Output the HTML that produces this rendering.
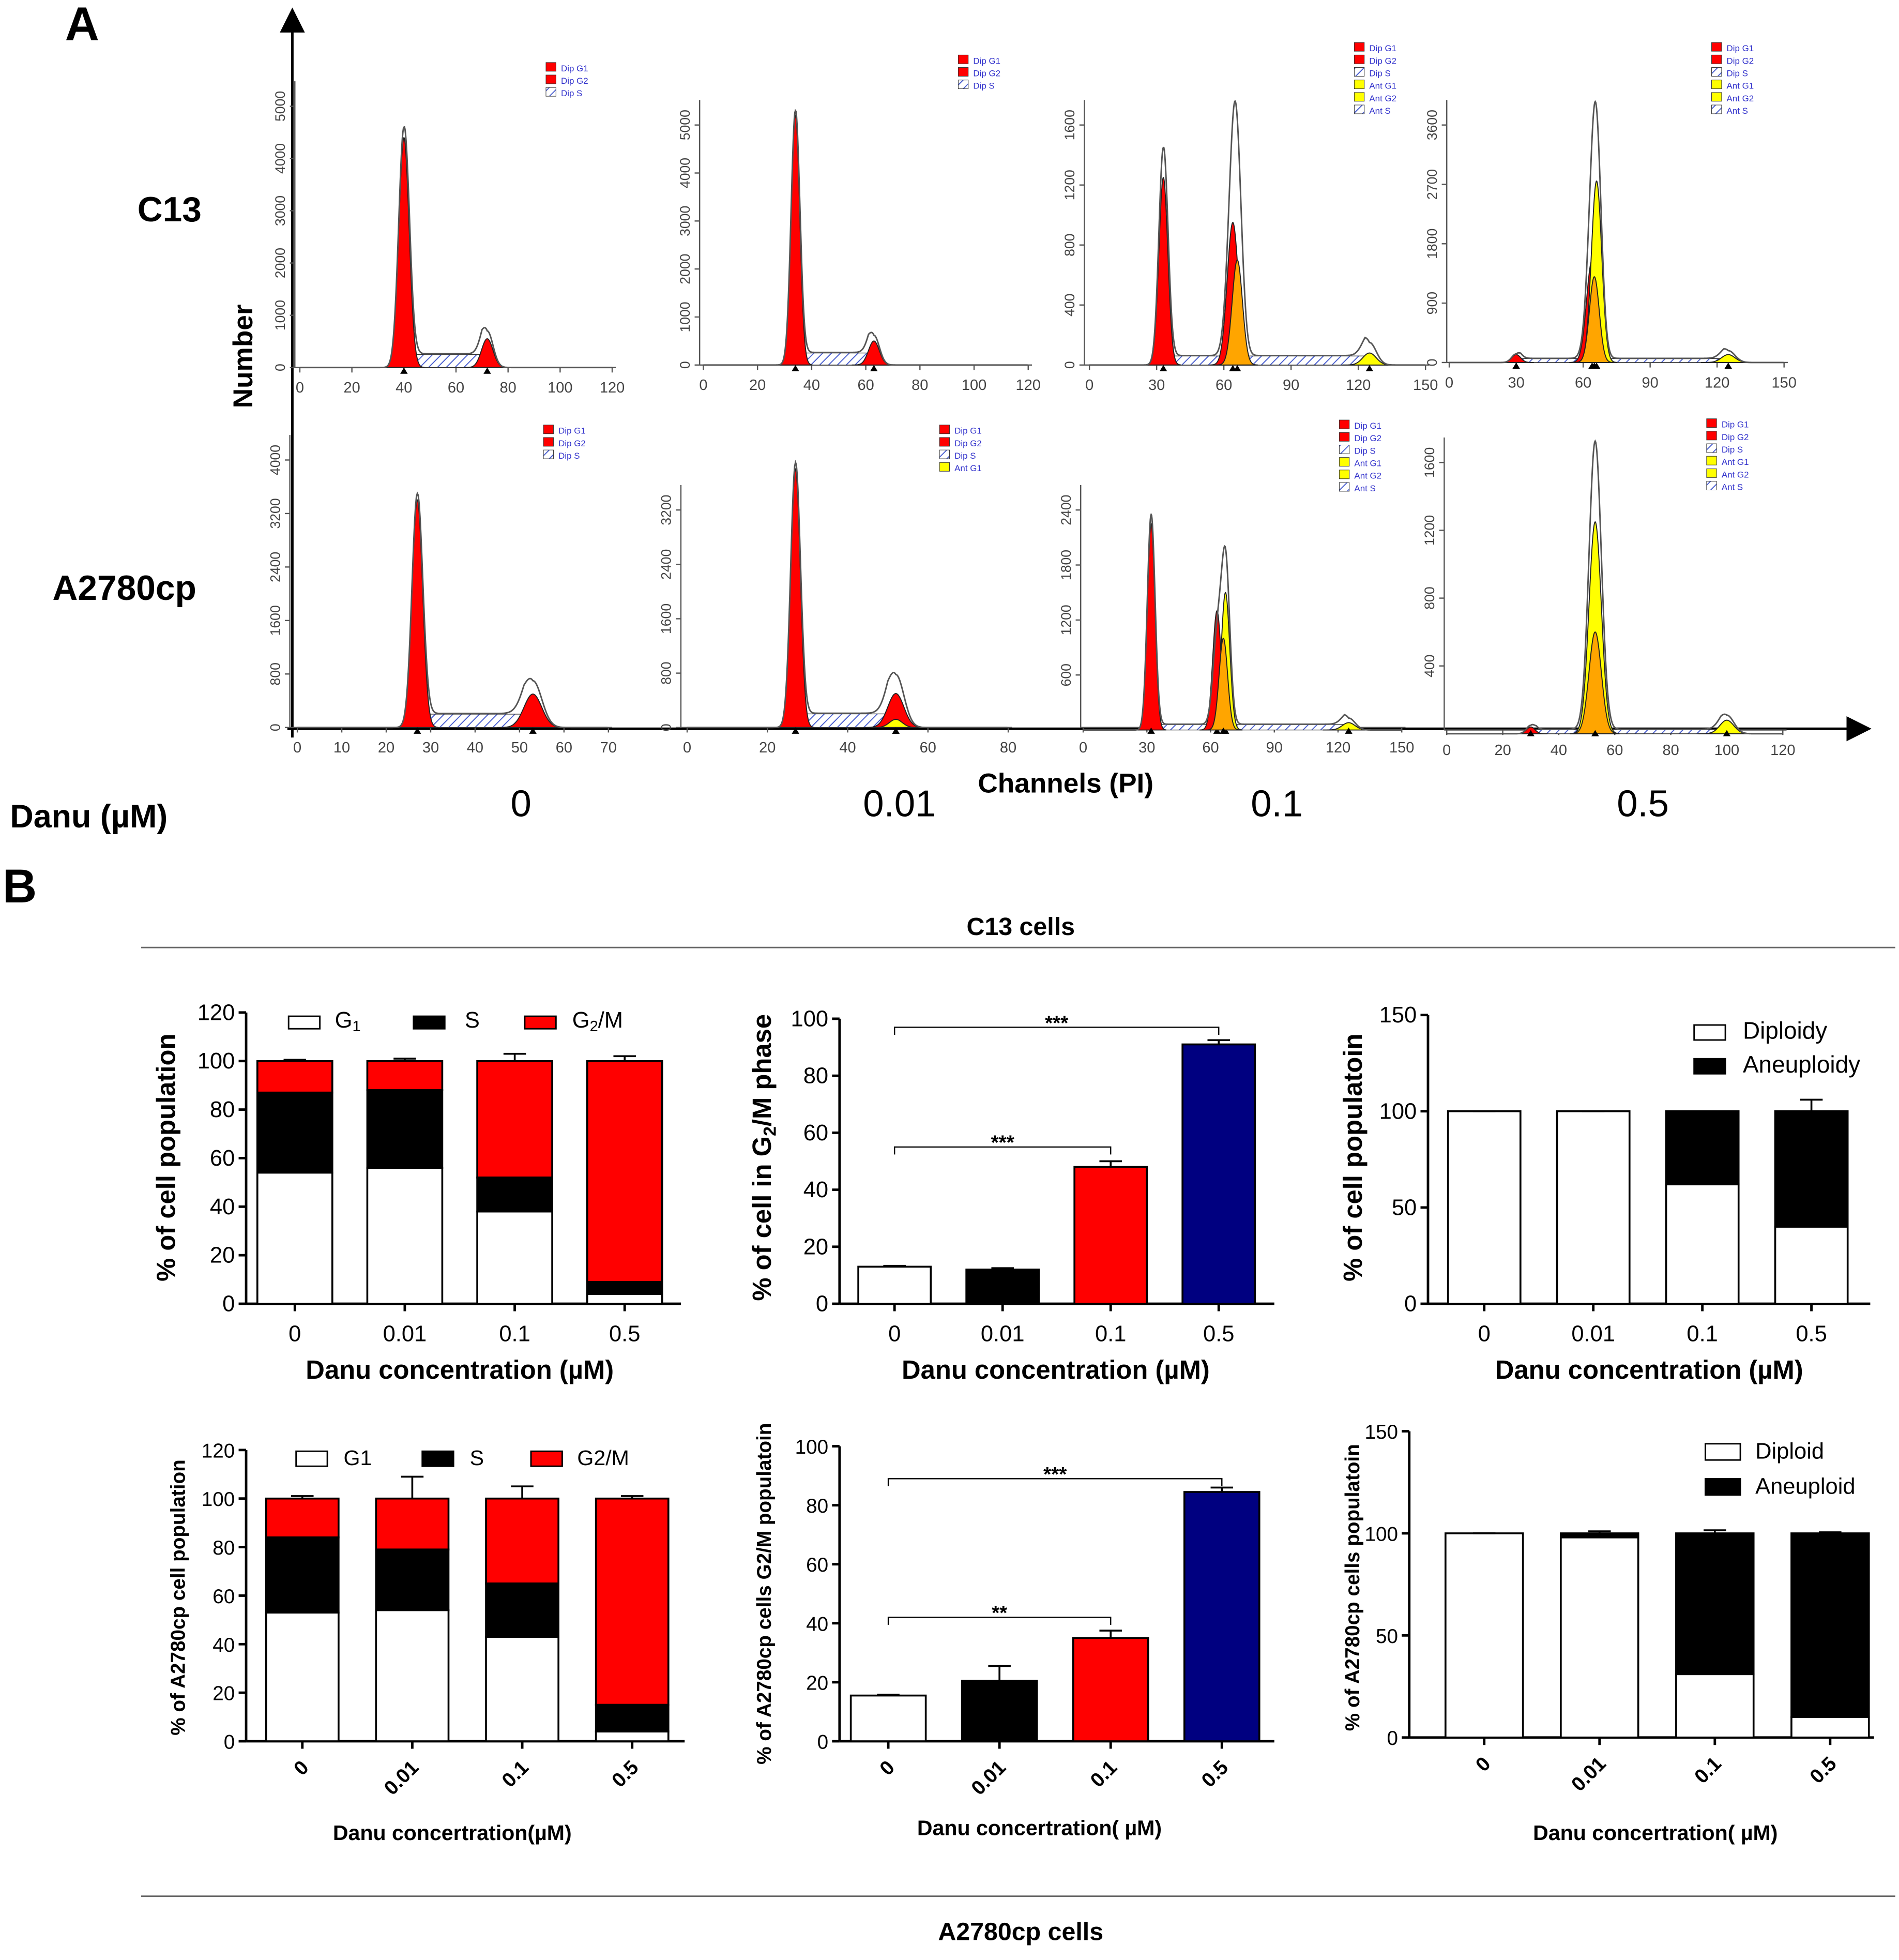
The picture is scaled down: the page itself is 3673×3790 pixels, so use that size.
<!DOCTYPE html>
<html><head><meta charset="utf-8"><title>Cell cycle figure</title>
<style>
html,body{margin:0;padding:0;background:#fff}
svg{display:block}
text{font-family:"Liberation Sans",sans-serif}
</style></head>
<body>
<svg id="fig" xmlns="http://www.w3.org/2000/svg" width="3673" height="3790" viewBox="0 0 1520 1568" preserveAspectRatio="none">
<defs>
<pattern id="hatch" width="5" height="5" patternUnits="userSpaceOnUse" patternTransform="rotate(45)">
<rect width="5" height="5" fill="#fff"/><line x1="0" y1="0" x2="0" y2="5" stroke="#4a5fd0" stroke-width="1.6"/></pattern>
<marker id="arr" markerWidth="10" markerHeight="10" refX="5" refY="5" orient="auto"><path d="M0,0 L10,5 L0,10 z" fill="#000"/></marker>
</defs>
<g font-weight="bold">
<text x="52" y="32" font-size="38">A</text>
<text x="110" y="177" font-size="28">C13</text>
<text x="42" y="480" font-size="28">A2780cp</text>
<text transform="translate(202,285) rotate(-90)" text-anchor="middle" font-size="22">Number</text>
<text x="853" y="634" text-anchor="middle" font-size="22">Channels (PI)</text>
<text x="8" y="662" font-size="26">Danu (µM)</text>
<text x="417" y="653" text-anchor="middle" font-size="30" font-weight="normal">0</text>
<text x="720" y="653" text-anchor="middle" font-size="30" font-weight="normal">0.01</text>
<text x="1022" y="653" text-anchor="middle" font-size="30" font-weight="normal">0.1</text>
<text x="1315" y="653" text-anchor="middle" font-size="30" font-weight="normal">0.5</text>
</g>
<line x1="234" y1="590" x2="234" y2="16" stroke="#000" stroke-width="2" marker-end="url(#arr)"/>
<line x1="230" y1="583" x2="1488" y2="583" stroke="#000" stroke-width="2" marker-end="url(#arr)"/>
<g font-weight="bold">
<text x="2" y="722" font-size="38">B</text>
<text x="817" y="748" text-anchor="middle" font-size="20">C13 cells</text>
<line x1="113" y1="758" x2="1517" y2="758" stroke="#666" stroke-width="1.2"/>
<line x1="113" y1="1517" x2="1517" y2="1517" stroke="#666" stroke-width="1.2"/>
<text x="817" y="1552" text-anchor="middle" font-size="20">A2780cp cells</text>
</g>
<g id="hists"></g>
<g id="bars"></g>
</svg>
<script>
// ---------- Histogram data (channel, fill height, envelope height, sigma, color) ----------
const h1Peaks=[[40,4400,4600,2,'#f00'],[72,550,700,2.2,'#f00']];
const h2Peaks=[[34,5200,5300,1.6,'#f00'],[63,500,620,2,'#f00']];
const h3Peaks=[[33,1250,1450,2,'#f00'],[64,950,1000,2.5,'#f00'],[66,700,850,2.3,'#ffa500'],[125,80,150,3,'#ff0']];
const h4Peaks=[[30,120,130,2,'#f00'],[64,1550,1500,2.5,'#f00'],[66,2750,2700,2.3,'#ff0'],[65,1300,0,2.2,'#ffa500'],[125,120,180,3,'#ff0']];
const h5Peaks=[[27,3400,3500,1.2,'#f00'],[53,500,700,2,'#f00']];
const h6Peaks=[[27,3800,3900,1.2,'#f00'],[52,500,780,2,'#f00'],[52,120,0,1.6,'#ff0']];
const h7Peaks=[[32,2250,2350,1.8,'#f00'],[63,1300,900,2,'#f00'],[67,1500,1800,2,'#ff0'],[66,1000,0,2,'#ffa500'],[125,80,130,3,'#ff0']];
const h8Peaks=[[30,40,50,1.5,'#f00'],[53,1250,1700,2.2,'#ff0'],[53,600,0,2.2,'#ffa500'],[100,80,110,2.5,'#ff0']];
const histSpecs=[
 {id:'c13-0',ox:236,oy:294,x0:240,x1:490,xmax:120,xt:[0,20,40,60,80,100,120],yt:[0,1000,2000,3000,4000,5000],ytop:85,yv:5000,peaks:h1Peaks,s:[40,72,250],leg:['Dip G1','Dip G2','Dip S'],lx:437,ly:50},
 {id:'c13-0.01',ox:560,oy:292,x0:563,x1:823,xmax:120,xt:[0,20,40,60,80,100,120],yt:[0,1000,2000,3000,4000,5000],ytop:100,yv:5000,peaks:h2Peaks,s:[34,63,250],leg:['Dip G1','Dip G2','Dip S'],lx:767,ly:44},
 {id:'c13-0.1',ox:868,oy:292,x0:872,x1:1141,xmax:150,xt:[0,30,60,90,120,150],yt:[0,400,800,1200,1600],ytop:100,yv:1600,peaks:h3Peaks,s:[33,125,60],leg:['Dip G1','Dip G2','Dip S','Ant G1','Ant G2','Ant S'],lx:1084,ly:34},
 {id:'c13-0.5',ox:1158,oy:290,x0:1160,x1:1428,xmax:150,xt:[0,30,60,90,120,150],yt:[0,900,1800,2700,3600],ytop:100,yv:3600,peaks:h4Peaks,s:[30,125,60],leg:['Dip G1','Dip G2','Dip S','Ant G1','Ant G2','Ant S'],lx:1370,ly:34},
 {id:'a2780-0',ox:232,oy:582,x0:238,x1:487,xmax:70,xt:[0,10,20,30,40,50,60,70],yt:[0,800,1600,2400,3200,4000],ytop:368,yv:4000,peaks:h5Peaks,s:[27,53,200],leg:['Dip G1','Dip G2','Dip S'],lx:435,ly:340},
 {id:'a2780-0.01',ox:545,oy:582,x0:550,x1:807,xmax:80,xt:[0,20,40,60,80],yt:[0,800,1600,2400,3200],ytop:408,yv:3200,peaks:h6Peaks,s:[27,52,200],leg:['Dip G1','Dip G2','Dip S','Ant G1'],lx:752,ly:340},
 {id:'a2780-0.1',ox:865,oy:582,x0:867,x1:1122,xmax:150,xt:[0,30,60,90,120,150],yt:[600,1200,1800,2400],ytop:408,yv:2400,y0:584,peaks:h7Peaks,s:[32,125,60],leg:['Dip G1','Dip G2','Dip S','Ant G1','Ant G2','Ant S'],lx:1072,ly:336},
 {id:'a2780-0.5',ox:1156,oy:584,x0:1158,x1:1427,xmax:120,xt:[0,20,40,60,80,100,120],yt:[400,800,1200,1600],ytop:370,yv:1600,y0:587,peaks:h8Peaks,s:[30,100,25],leg:['Dip G1','Dip G2','Dip S','Ant G1','Ant G2','Ant S'],lx:1366,ly:335}
];
const legColors={'Dip G1':'#f00','Dip G2':'#f00','Dip S':'hatch','Ant G1':'#ff0','Ant G2':'#ff0','Ant S':'hatch'};

// ---------- Bar chart data ----------
const concLabels=['0','0.01','0.1','0.5'];
const c13G1=[54,56,38,4];
const c13SG1=[87,88,52,9];
const c13StackErr=[0.5,1,3,2];
const c13G2M=[13,12,48,91];
const c13G2MErr=[0.3,0.5,2,1.5];
const c13Diploid=[100,100,62,40];
const c13PloidyErr=[0,0,0,6];
const a27G1=[53,54,43,4];
const a27SG1=[84,79,65,15];
const a27StackErr=[1,9,5,1];
const a27G2M=[15.5,20.5,35,84.5];
const a27G2MErr=[0.3,5,2.5,1.5];
const a27Diploid=[100,98,31,10];
const a27PloidyErr=[0,1,1.5,0.5];
const stackTicks=[0,20,40,60,80,100,120];
const g2mTicks=[0,20,40,60,80,100];
const ploidyTicks=[0,50,100,150];

const NS='http://www.w3.org/2000/svg';
function mk(parent,tag,attrs,name){
  const el=document.createElementNS(NS,tag);
  for(const k in attrs) el.setAttribute(k,attrs[k]);
  
  
  parent.appendChild(el);return el;
}
function txt(parent,x,y,s,attrs,name){const t=mk(parent,'text',Object.assign({x:x,y:y},attrs),name);t.textContent=s;return t;}

// ---------- Histograms ----------
const HG=document.getElementById('hists');
histSpecs.forEach(p=>{
  const g=mk(HG,'g',{},'histogram-'+p.id);
  const y0=p.y0||p.oy;
  const X=c=>p.x0+c/p.xmax*(p.x1-p.x0);
  const Y=v=>y0-v*(y0-p.ytop)/p.yv;
  // axes
  mk(g,'line',{x1:p.ox,y1:p.oy,x2:p.ox,y2:p.ytop-20,stroke:'#555','stroke-width':1},'hist-y-axis');
  mk(g,'line',{x1:p.ox,y1:p.oy,x2:p.x1+3,y2:p.oy,stroke:'#555','stroke-width':1},'hist-x-axis');
  p.xt.forEach(t=>{
    mk(g,'line',{x1:X(t),y1:p.oy,x2:X(t),y2:p.oy+4,stroke:'#555'},'hist-x-tick');
    txt(g,X(t),p.oy+20,String(t),{'font-size':12,'text-anchor':'middle',fill:'#444'},'hist-x-tick-label');
  });
  p.yt.forEach(t=>{
    const yy=Y(t);
    mk(g,'line',{x1:p.ox-4,y1:yy,x2:p.ox,y2:yy,stroke:'#555'},'hist-y-tick');
    txt(g,0,0,String(t),{'font-size':11,'text-anchor':'middle',fill:'#444',transform:'translate('+(p.ox-8)+','+yy+') rotate(-90)'},'hist-y-tick-label');
  });
  // S phase hatched plateau
  const s=p.s;let d='M'+X(s[0])+','+Y(0);
  for(let c=s[0];c<=s[1];c+=0.5){const e=Math.min(1,(c-s[0])/2,(s[1]-c)/2);d+=' L'+X(c)+','+Y(s[2]*Math.max(0,e));}
  d+=' L'+X(s[1])+','+Y(0)+' Z';
  mk(g,'path',{d:d,fill:'url(#hatch)',stroke:'#333','stroke-width':0.6},'hist-s-phase');
  // filled peaks
  p.peaks.forEach(pk=>{
    let d='M'+X(pk[0]-4*pk[3])+','+Y(0);
    for(let c=pk[0]-4*pk[3];c<=pk[0]+4*pk[3];c+=0.1){d+=' L'+X(c)+','+Y(pk[1]*Math.exp(-((c-pk[0])**2)/(2*pk[3]*pk[3])));}
    d+=' Z';
    mk(g,'path',{d:d,fill:pk[4],stroke:'#222','stroke-width':0.8},'hist-peak');
    mk(g,'path',{d:'M'+(X(pk[0])-3)+','+(p.oy+5)+' l3,-5 l3,5 z',fill:'#000'},'hist-peak-marker');
  });
  // envelope
  let e='';
  for(let c=0;c<=p.xmax;c+=0.2){
    let v=0;p.peaks.forEach(pk=>{v+=pk[2]*Math.exp(-((c-pk[0])**2)/(2*pk[3]*pk[3]));});
    if(c>s[0]&&c<s[1]){v+=s[2]*Math.min(1,(c-s[0])/2,(s[1]-c)/2)*1.05;}
    e+=(e?' L':'M')+X(c)+','+Y(v);
  }
  mk(g,'path',{d:e,fill:'none',stroke:'#555','stroke-width':1.2},'hist-envelope');
  // legend
  p.leg.forEach((l,i)=>{
    const c=legColors[l];
    mk(g,'rect',{x:p.lx,y:p.ly+i*10,width:8,height:7,fill:c==='hatch'?'url(#hatch)':c,stroke:'#333','stroke-width':0.4},'hist-legend-swatch');
    txt(g,p.lx+12,p.ly+i*10+7,l,{'font-size':7,fill:'#33c'},'hist-legend-label');
  });
});

// ---------- Bar charts ----------
const BG=document.getElementById('bars');
function chart(c){
  const g=mk(BG,'g',{},c.name);
  const Y=v=>c.y0-(v-c.ticks[0])/(c.ticks[c.ticks.length-1]-c.ticks[0])*(c.y0-c.ytop);
  const X=i=>c.bx0+i*c.bstep;
  mk(g,'line',{x1:c.ax,y1:c.ytop,x2:c.ax,y2:c.y0,stroke:'#000','stroke-width':2},'y-axis');
  mk(g,'line',{x1:c.ax,y1:c.y0,x2:c.axEnd,y2:c.y0,stroke:'#000','stroke-width':2},'x-axis');
  c.ticks.forEach(t=>{
    mk(g,'line',{x1:c.ax-6,y1:Y(t),x2:c.ax,y2:Y(t),stroke:'#000','stroke-width':2},'y-tick');
    txt(g,c.ax-9,Y(t)+6,String(t),{'font-size':c.tfs,'text-anchor':'end'},'y-tick-label');
  });
  concLabels.forEach((l,i)=>{
    mk(g,'line',{x1:X(i),y1:c.y0,x2:X(i),y2:c.y0+6,stroke:'#000','stroke-width':2},'x-tick');
    if(c.rot) txt(g,0,0,l,{'font-size':16,'font-weight':'bold','text-anchor':'end',transform:'translate('+(X(i)+6)+','+(c.y0+22)+') rotate(-45)'},'x-tick-label');
    else txt(g,X(i),c.y0+30,l,{'font-size':18,'text-anchor':'middle'},'x-tick-label');
  });
  const w=c.bw;
  c.series.forEach((v,i)=>{
    const x=X(i)-w/2;
    if(c.type==='stack'){
      mk(g,'rect',{x:x,y:Y(100),width:w,height:Y(c.s[i])-Y(100),fill:'#f00',stroke:'#000','stroke-width':1.5},'bar-g2m-'+concLabels[i]);
      mk(g,'rect',{x:x,y:Y(c.s[i]),width:w,height:Y(v)-Y(c.s[i]),fill:'#000',stroke:'#000','stroke-width':1.5},'bar-s-'+concLabels[i]);
      mk(g,'rect',{x:x,y:Y(v),width:w,height:Y(0)-Y(v),fill:'#fff',stroke:'#000','stroke-width':1.5},'bar-g1-'+concLabels[i]);
      errbar(g,X(i),Y(100),Y(100+c.err[i]));
    }else if(c.type==='ploidy'){
      mk(g,'rect',{x:x,y:Y(100),width:w,height:Y(v)-Y(100),fill:'#000',stroke:'#000','stroke-width':1.5},'bar-aneuploid-'+concLabels[i]);
      mk(g,'rect',{x:x,y:Y(v),width:w,height:Y(0)-Y(v),fill:'#fff',stroke:'#000','stroke-width':1.5},'bar-diploid-'+concLabels[i]);
      errbar(g,X(i),Y(100),Y(100+c.err[i]));
    }else{
      const cols=['#fff','#000','#f00','#000080'];
      mk(g,'rect',{x:x,y:Y(v),width:w,height:Y(0)-Y(v),fill:cols[i],stroke:'#000','stroke-width':1.5},'bar-'+concLabels[i]);
      errbar(g,X(i),Y(v),Y(v+c.err[i]));
    }
  });
  function errbar(g,x,ya,yb){
    mk(g,'line',{x1:x,y1:ya,x2:x,y2:yb,stroke:'#000','stroke-width':1.5},'error-bar');
    mk(g,'line',{x1:x-9,y1:yb,x2:x+9,y2:yb,stroke:'#000','stroke-width':1.5},'error-cap');
  }
  if(c.sig){c.sig.forEach(sg=>{
    const yy=Y(sg[1]);
    mk(g,'path',{d:'M'+X(0)+','+(yy+6)+' V'+yy+' H'+X(sg[0])+' V'+(yy+6),fill:'none',stroke:'#000','stroke-width':1},'significance-bracket');
    txt(g,(X(0)+X(sg[0]))/2,yy+2,sg[2],{'font-size':16,'font-weight':'bold','text-anchor':'middle'},'significance-stars');
  });}
  c.legend.forEach(l=>{
    mk(g,'rect',{x:l[0],y:l[1],width:l[2],height:l[3],fill:l[4],stroke:'#000','stroke-width':1.2},'legend-swatch');
    const t=txt(g,l[5],l[1]+l[3]-1,'',{'font-size':l[7]},'legend-label');t.innerHTML=l[6];
  });
  txt(g,c.xtx,c.xty,c.xt,{'font-size':c.xfs,'font-weight':'bold','text-anchor':'middle'},'x-axis-title');
  const yt=txt(g,0,0,'',{'font-size':c.yfs,'font-weight':'bold','text-anchor':'middle',transform:'translate('+c.ytx+','+c.yty+') rotate(-90)'},'y-axis-title');yt.innerHTML=c.yt;
}
chart({name:'c13-phase-stack-chart',type:'stack',ax:197,axEnd:545,y0:1043,ytop:810,ticks:stackTicks,tfs:18,bx0:236,bstep:88,bw:60,series:c13G1,s:c13SG1,err:c13StackErr,
 legend:[[231,813,25,10,'#fff',268,'G<tspan font-size="12" dy="3">1</tspan>',18],[331,813,25,10,'#000',372,'S',18],[420,813,25,10,'#f00',458,'G<tspan font-size="12" dy="3">2</tspan><tspan dy="-3">/M</tspan>',18]],
 xt:'Danu concentration (µM)',xtx:368,xty:1103,xfs:21,yt:'% of cell population',ytx:140,yty:926,yfs:21});
chart({name:'c13-g2m-chart',type:'single',ax:672,axEnd:1020,y0:1043,ytop:815,ticks:g2mTicks,tfs:18,bx0:716,bstep:86.5,bw:58,series:c13G2M,err:c13G2MErr,
 sig:[[3,97,'***'],[2,55,'***']],legend:[],
 xt:'Danu concentration (µM)',xtx:845,xty:1103,xfs:21,yt:'% of cell in G<tspan font-size="14" dy="4">2</tspan><tspan dy="-4">/M phase</tspan>',ytx:617,yty:926,yfs:21});
chart({name:'c13-ploidy-chart',type:'ploidy',ax:1143,axEnd:1497,y0:1043,ytop:812,ticks:ploidyTicks,tfs:18,bx0:1188,bstep:87.3,bw:58,series:c13Diploid,err:c13PloidyErr,
 legend:[[1356,820,25,12,'#fff',1395,'Diploidy',19],[1356,847,25,12,'#000',1395,'Aneuploidy',19]],
 xt:'Danu concentration (µM)',xtx:1320,xty:1103,xfs:21,yt:'% of cell populatoin',ytx:1090,yty:926,yfs:21});
chart({name:'a2780cp-phase-stack-chart',type:'stack',ax:197,axEnd:548,y0:1393,ytop:1160,ticks:stackTicks,tfs:16,bx0:242,bstep:88,bw:58,series:a27G1,s:a27SG1,err:a27StackErr,rot:true,
 legend:[[237,1161,25,12,'#fff',275,'G1',17],[338,1161,25,12,'#000',376,'S',17],[425,1161,25,12,'#f00',462,'G2/M',17]],
 xt:'Danu  concertration(µM)',xtx:362,xty:1472,xfs:17,yt:'% of  A2780cp cell population',ytx:148,yty:1278,yfs:16});
chart({name:'a2780cp-g2m-chart',type:'single',ax:672,axEnd:1020,y0:1393,ytop:1157,ticks:g2mTicks,tfs:16,bx0:711,bstep:89,bw:60,series:a27G2M,err:a27G2MErr,rot:true,
 sig:[[3,89,'***'],[2,42,'**']],legend:[],
 xt:'Danu concertration( µM)',xtx:832,xty:1468,xfs:17,yt:'% of A2780cp cells G2/M populatoin',ytx:617,yty:1275,yfs:16});
chart({name:'a2780cp-ploidy-chart',type:'ploidy',ax:1128,axEnd:1500,y0:1390,ytop:1145,ticks:ploidyTicks,tfs:16,bx0:1188,bstep:92.3,bw:62,series:a27Diploid,err:a27PloidyErr,rot:true,
 legend:[[1365,1155,28,13,'#fff',1405,'Diploid',18],[1365,1183,28,13,'#000',1405,'Aneuploid',18]],
 xt:'Danu concertration( µM)',xtx:1325,xty:1472,xfs:17,yt:'% of A2780cp cells  populatoin',ytx:1088,yty:1270,yfs:16});
</script>
</body></html>
